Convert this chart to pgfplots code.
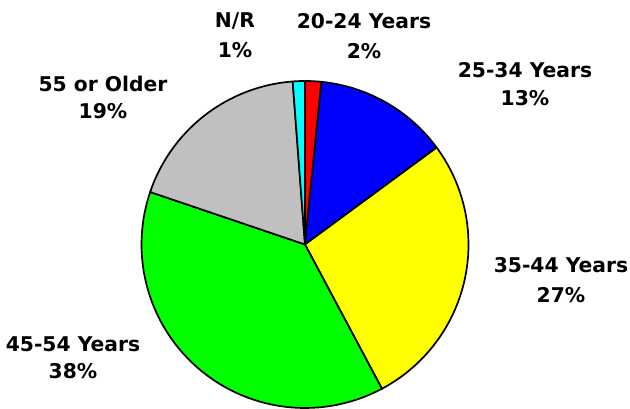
\documentclass[border=0pt]{standalone}
\usepackage{pgfplots}
\pgfplotsset{compat=1.18}
\usepackage{fontspec}
\setmainfont{DejaVu Sans}
\definecolor{slred}{RGB}{255,0,0}
\definecolor{slblue}{RGB}{0,0,255}
\definecolor{slyellow}{RGB}{255,255,0}
\definecolor{slgreen}{RGB}{0,255,0}
\definecolor{slgray}{RGB}{192,192,192}
\definecolor{slcyan}{RGB}{0,255,255}
% slice shares in percent (clockwise from 12 o'clock)
\def\pA{1.6}  % 20-24 Years
\def\pB{13.3} % 25-34 Years
\def\pC{27.3} % 35-44 Years
\def\pD{38.0} % 45-54 Years
\def\pE{18.6} % 55 or Older
\def\pF{1.2}  % N/R
\pgfmathsetmacro{\cA}{\pA}
\pgfmathsetmacro{\cB}{\cA+\pB}
\pgfmathsetmacro{\cC}{\cB+\pC}
\pgfmathsetmacro{\cD}{\cC+\pD}
\pgfmathsetmacro{\cE}{\cD+\pE}
\pgfmathsetmacro{\cF}{\cE+\pF}
\def\cx{305}\def\cy{163.5}\def\rr{163.5}
\newcommand{\slice}[3]{% start%, end%, colour
  \pgfmathsetmacro{\aS}{90-3.6*#2}%
  \pgfmathsetmacro{\aE}{90-3.6*#1}%
  \addplot[fill=#3, draw=black, line width=1.7pt, line join=round, domain=\aS:\aE, samples=60, variable=\t]
    ({\cx+\rr*cos(\t)}, {\cy+\rr*sin(\t)}) -- (axis cs:\cx,\cy) -- cycle;
}
\newcommand{\lab}[3]{% x, baseline y (image px), text
  \node[anchor=base, inner sep=0pt, font=\fontsize{20.3}{24}\selectfont\bfseries] at (axis cs:#1,408-#2) {#3};
}
\begin{document}
\begin{tikzpicture}
\begin{axis}[
  scale only axis, width=630pt, height=408pt,
  xmin=0, xmax=630, ymin=0, ymax=408,
  hide axis, clip=false,
]
\addplot[draw=none, mark=none] coordinates {(0,0) (630,408)};
\slice{0}{\cA}{slred}
\slice{\cA}{\cB}{slblue}
\slice{\cB}{\cC}{slyellow}
\slice{\cC}{\cD}{slgreen}
\slice{\cD}{\cE}{slgray}
\slice{\cE}{\cF}{slcyan}
\lab{235}{28}{N/R}
\lab{235}{58}{1\%}
\lab{364}{29}{20-24 Years}
\lab{364}{59}{2\%}
\lab{525}{78}{25-34 Years}
\lab{525}{106}{13\%}
\lab{103}{92}{55 or Older}
\lab{103}{119}{19\%}
\lab{561}{273}{35-44 Years}
\lab{561}{303}{27\%}
\lab{73}{352}{45-54 Years}
\lab{73}{379}{38\%}
\end{axis}
\end{tikzpicture}
\end{document}
